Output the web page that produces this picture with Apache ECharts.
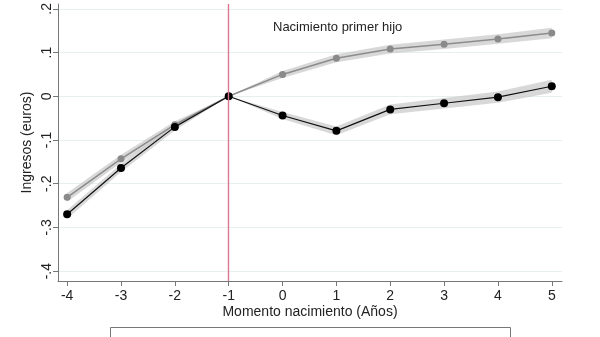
<!DOCTYPE html>
<html><head><meta charset="utf-8">
<script src="https://cdn.jsdelivr.net/npm/echarts@6/dist/echarts.min.js"></script>
<style>html,body{margin:0;padding:0;background:#fff}#c{width:600px;height:337px}</style>
</head><body><div id="c"></div>
<script>
var years = [-4, -3, -2, -1, 0, 1, 2, 3, 4, 5];
var grayVals = [-0.231, -0.143, -0.065, 0, 0.050, 0.087, 0.108, 0.119, 0.131, 0.145];
var blackVals = [-0.270, -0.164, -0.070, 0, -0.044, -0.079, -0.030, -0.016, -0.002, 0.023];
var grayCI = [0.010, 0.009, 0.008, 0, 0.008, 0.009, 0.010, 0.011, 0.011, 0.012];
var blackCI = [0.010, 0.009, 0.008, 0, 0.008, 0.010, 0.011, 0.012, 0.013, 0.015];
var yTicks = [-0.4, -0.3, -0.2, -0.1, 0, 0.1, 0.2];
var yTickLabels = ['-.4', '-.3', '-.2', '-.1', '0', '.1', '.2'];
var eventYear = -1;
var annotation = 'Nacimiento primer hijo';
var xTitle = 'Momento nacimiento (Años)';
var yTitle = 'Ingresos (euros)';

function bandSeries(vals, ci, color) {
  return {
    type: 'custom', silent: true, z: 1,
    data: years.map(function (x, i) { return [x, vals[i] - ci[i], vals[i] + ci[i]]; }),
    renderItem: function (params, api) {
      if (params.dataIndex !== 0) return null;
      var up = [], lo = [];
      for (var i = 0; i < years.length; i++) {
        up.push(api.coord([years[i], vals[i] + ci[i]]));
        lo.unshift(api.coord([years[i], vals[i] - ci[i]]));
      }
      return { type: 'polygon', shape: { points: up.concat(lo) }, style: { fill: color } };
    }
  };
}

var chart = echarts.init(document.getElementById('c'));
var font = 'Liberation Sans, Arial, sans-serif';
chart.setOption({
  animation: false,
  grid: { left: 58, right: 38, top: 0, bottom: 56, containLabel: false },
  xAxis: {
    type: 'value', min: -4.17, max: 5.19,
    name: xTitle, nameLocation: 'middle', nameGap: 24, nameMoveOverlap: false,
    nameTextStyle: { fontFamily: font, fontSize: 14, color: '#222' },
    axisLine: { show: true, onZero: false, lineStyle: { color: '#777', width: 1 } },
    axisTick: { show: true, length: 5, lineStyle: { color: '#777' }, customValues: years },
    axisLabel: { fontFamily: font, fontSize: 14, color: '#222', margin: 8, customValues: years },
    splitLine: { show: false }
  },
  yAxis: {
    type: 'value', min: -0.4225, max: 0.211,
    name: yTitle, nameLocation: 'middle', nameGap: 24, nameRotate: 90, nameMoveOverlap: false,
    nameTextStyle: { fontFamily: font, fontSize: 14, color: '#222' },
    axisLine: { show: true, onZero: false, lineStyle: { color: '#777', width: 1 } },
    axisTick: { show: true, length: 5, lineStyle: { color: '#777' }, customValues: yTicks },
    axisLabel: {
      fontFamily: font, fontSize: 14, color: '#222', rotate: 90, margin: 4,
      customValues: yTicks,
      formatter: function (v) {
        var i = yTicks.findIndex(function (t) { return Math.abs(t - v) < 1e-9; });
        return i >= 0 ? yTickLabels[i] : '';
      }
    },
    splitLine: { show: true, lineStyle: { color: '#e6f0f1', width: 1 } }
  },
  graphic: [
    { type: 'text', left: 273, top: 21, style: { text: annotation, font: '13px ' + font, fill: '#222' } },
    { type: 'rect', shape: { x: 110.5, y: 327.5, width: 400, height: 30 }, style: { fill: '#fff', stroke: '#777', lineWidth: 1 } }
  ],
  series: [
    bandSeries(grayVals, grayCI, 'rgba(200,200,200,0.7)'),
    bandSeries(blackVals, blackCI, 'rgba(200,200,200,0.7)'),
    {
      type: 'line', data: years.map(function (x, i) { return [x, grayVals[i]]; }), z: 3,
      symbol: 'circle', symbolSize: 7,
      lineStyle: { color: '#8c8c8c', width: 1.5 }, itemStyle: { color: '#8a8a8a' },
      markLine: {
        silent: true, symbol: 'none', label: { show: false },
        lineStyle: { color: '#dc7590', width: 1.4, type: 'solid' },
        data: [{ xAxis: eventYear }]
      }
    },
    {
      type: 'line', data: years.map(function (x, i) { return [x, blackVals[i]]; }), z: 4,
      symbol: 'circle', symbolSize: 8,
      lineStyle: { color: '#111', width: 1.2 }, itemStyle: { color: '#000' }
    }
  ]
});
</script></body></html>
